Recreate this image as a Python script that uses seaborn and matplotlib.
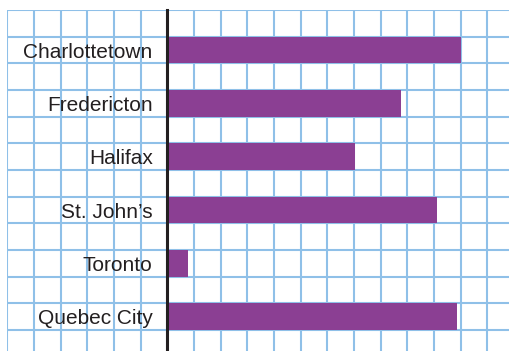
import matplotlib
matplotlib.use("Agg")
import matplotlib.pyplot as plt
import numpy as np
import pandas as pd
import seaborn as sns
from matplotlib.ticker import FixedLocator

cities = ["Charlottetown", "Fredericton", "Halifax", "St. John\u2019s", "Toronto", "Quebec City"]
values = [11.0, 8.75, 7.05, 10.1, 0.78, 10.85]

df = pd.DataFrame({"city": cities, "value": values})

sns.set_theme(style="white")
plt.rcParams["font.family"] = ["Liberation Sans", "DejaVu Sans"]

W, H = 509, 351
fig = plt.figure(figsize=(W / 100, H / 100), dpi=100)
left_px, top_px = 7.3, 10.0
ax = fig.add_axes([left_px / W, 0, 1 - left_px / W, 1 - top_px / H])

sns.barplot(data=df, y="city", x="value", orient="h", width=0.5,
            color="#8b3f93", saturation=1, edgecolor="none", linewidth=0, ax=ax)

cell_px = 26.67
ax.set_xlim(-6, (W - 167.3) / cell_px)
ax.set_ylim(-0.75 + (H - top_px) / (2 * cell_px), -0.75)

# graph-paper grid: one square per unit across, two squares per city row
ax.xaxis.set_minor_locator(FixedLocator(np.arange(-6, 14, 1.0)))
ax.yaxis.set_minor_locator(FixedLocator(np.arange(-0.75, 6.0, 0.5)))
ax.grid(False, which="major")
ax.grid(True, which="minor", color="#8fc0e8", linewidth=1.5)
ax.set_axisbelow(True)
for gl in ax.xaxis.get_minorticklines() + ax.yaxis.get_minorticklines():
    gl.set_visible(False)
for gl in ax.get_xgridlines() + ax.get_ygridlines():
    gl.set_clip_on(False)

for s in ["top", "right", "bottom"]:
    ax.spines[s].set_visible(False)
ax.spines["left"].set_position(("data", 0))
ax.spines["left"].set_color("#231f20")
ax.spines["left"].set_linewidth(2.2)
ax.spines["left"].set_zorder(5)

ax.set_xticks([])
ax.tick_params(axis="y", which="both", length=0, pad=10.5, labelsize=15, labelcolor="#231f20")
ax.set_xlabel("")
ax.set_ylabel("")

fig.savefig("out.png", dpi=100)
